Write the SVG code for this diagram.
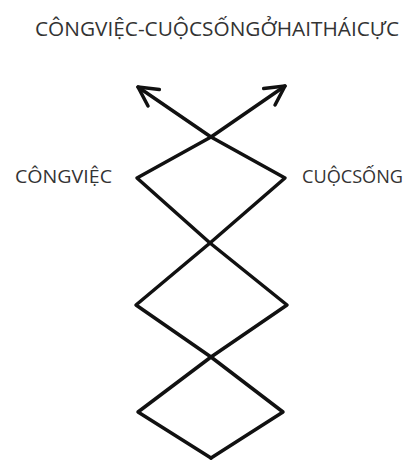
<svg xmlns="http://www.w3.org/2000/svg" width="411" height="462" viewBox="0 0 411 462">
  <style>
    .t { font-family: "Open Sans", "Noto Sans", "Liberation Sans", sans-serif; fill: #333; }
    .s { fill: none; stroke: #111; stroke-width: 3.5; stroke-linecap: round; stroke-linejoin: round; }
  </style>
  <defs>
    <marker id="arr" viewBox="-25 -15 30 30" refX="0" refY="0" markerWidth="30" markerHeight="30" markerUnits="userSpaceOnUse" orient="auto">
      <path d="M-19,-10 L0,0 L-19,10" fill="none" stroke="#111" stroke-width="3.5" stroke-linecap="round" stroke-linejoin="round"/>
    </marker>
  </defs>
  <rect width="411" height="462" fill="#fff"/>
  <g id="title">
    <text class="t" x="35" y="36" font-size="20" textLength="364" lengthAdjust="spacingAndGlyphs">CÔNGVIỆC-CUỘCSỐNGỞHAITHÁICỰC</text>
  </g>
  <g id="cong-viec">
    <text class="t" x="15" y="183" font-size="19" textLength="97" lengthAdjust="spacingAndGlyphs">CÔNGVIỆC</text>
  </g>
  <g id="cuoc-song">
    <text class="t" x="302" y="183" font-size="19" textLength="101" lengthAdjust="spacingAndGlyphs">CUỘCSỐNG</text>
  </g>
  <g id="connectors">
    <path class="s" marker-end="url(#arr)" d="M211,458 L138,412 L211,357 L287,305 L210,243 L137,178 L211,137 L285,86"/>
    <path class="s" marker-end="url(#arr)" d="M211,458 L283,412 L211,357 L136,305 L210,243 L285,178 L211,137 L138,87"/>
  </g>
</svg>
